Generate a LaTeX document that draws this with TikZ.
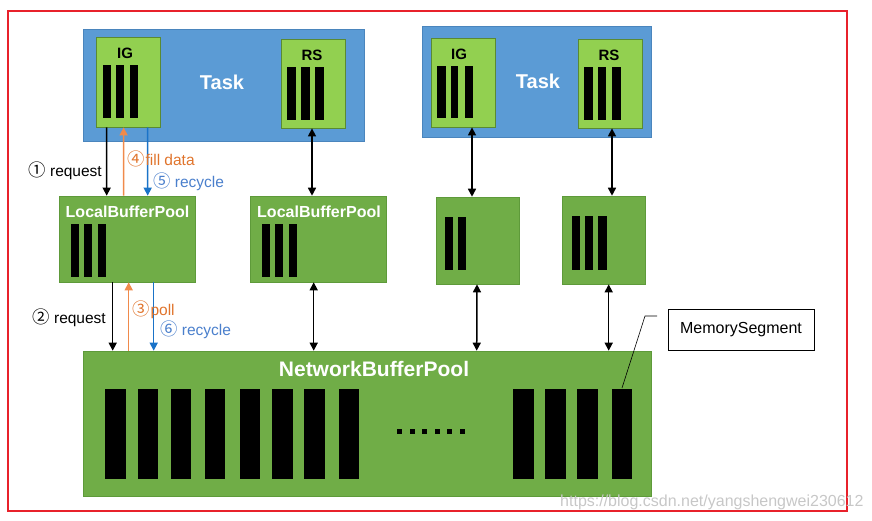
\documentclass[tikz,border=0pt]{standalone}
\usepackage{fontspec}
\setmainfont{Liberation Sans}
\newfontfamily\circfont[Scale=1.12]{Noto Sans CJK SC}
\usetikzlibrary{arrows.meta}
\definecolor{taskblue}{HTML}{5B9BD5}
\definecolor{taskborder}{HTML}{4A85BD}
\definecolor{lgreen}{HTML}{92D050}
\definecolor{lgborder}{HTML}{5A8A32}
\definecolor{dgreen}{HTML}{70AD47}
\definecolor{dgborder}{HTML}{5E9A3A}
\definecolor{arrorange}{HTML}{F08A4B}
\definecolor{arrblue}{HTML}{1A73C8}
\definecolor{txtorange}{HTML}{E0742C}
\definecolor{txtblue}{HTML}{4A7FCC}
\definecolor{framered}{HTML}{E8212B}
\newcommand{\fsz}[1]{\fontsize{#1}{#1}\selectfont}
\tikzset{
  taskbox/.style={draw=taskborder, fill=taskblue, line width=0.8pt, inner sep=0pt},
  gatebox/.style={draw=lgborder, fill=lgreen, line width=0.8pt, inner sep=0pt},
  poolbox/.style={draw=dgborder, fill=dgreen, line width=0.6pt, inner sep=0pt},
  tasktxt/.style={text=white, font=\bfseries\fsz{20}, inner sep=0pt},
  gatetxt/.style={text=black, font=\bfseries\fsz{15}, inner sep=0pt},
  pooltxt/.style={text=white, font=\bfseries\fsz{16}, inner sep=0pt},
  lbl/.style={font=\fsz{15.5}, inner sep=0pt},
  arr/.style={line width=1.5pt, -{Triangle[width=8pt,length=8pt]}},
  darr/.style={line width=1.5pt, {Triangle[width=8pt,length=8pt]}-{Triangle[width=8pt,length=8pt]}},
  seg/.style={fill=black}
}
\begin{document}
\begin{tikzpicture}[x=1pt,y=-1pt]
\useasboundingbox (0,0) rectangle (872,520);
% frame
\draw[framered, line width=1.5pt] (8,11) rectangle (847,511);

% left task
\node[taskbox, minimum width=281pt, minimum height=112pt] (task1) at (223.5,85) {};
\node[tasktxt] (task1t) at (222,82) {Task};
\node[gatebox, minimum width=64pt, minimum height=90pt] (ig1) at (128,82) {};
\node[gatetxt] (ig1t) at (125,53) {IG};
\node[gatebox, minimum width=64pt, minimum height=89pt] (rs1) at (313,83.5) {};
\node[gatetxt] (rs1t) at (312,55) {RS};
\foreach \a/\b in {103/111,116/124,130/138} \fill[seg] (\a,65) rectangle (\b,118);
\foreach \a/\b in {287/296,301/310,315/324} \fill[seg] (\a,67) rectangle (\b,120);

% right task
\node[taskbox, minimum width=229pt, minimum height=111pt] (task2) at (536.5,81.5) {};
\node[tasktxt] (task2t) at (538,81) {Task};
\node[gatebox, minimum width=64pt, minimum height=89pt] (ig2) at (463,82.5) {};
\node[gatetxt] (ig2t) at (459,54) {IG};
\node[gatebox, minimum width=64pt, minimum height=89pt] (rs2) at (610,83.5) {};
\node[gatetxt] (rs2t) at (609,55) {RS};
\foreach \a/\b in {437/446,451/458,465/473} \fill[seg] (\a,66) rectangle (\b,118);
\foreach \a/\b in {584/593,598/606,612/621} \fill[seg] (\a,67) rectangle (\b,120);

% local buffer pools
\node[poolbox, minimum width=136pt, minimum height=86pt] (lbp1) at (127,239) {};
\node[pooltxt] (lbp1t) at (127.5,212) {LocalBufferPool};
\node[poolbox, minimum width=136pt, minimum height=86pt] (lbp2) at (318,239) {};
\node[pooltxt] (lbp2t) at (319,212) {LocalBufferPool};
\node[poolbox, minimum width=83pt, minimum height=87pt] (b3) at (477.5,240.5) {};
\node[poolbox, minimum width=83pt, minimum height=88pt] (b4) at (603.5,240) {};
\foreach \a/\b in {71/79,84/92,98/106} \fill[seg] (\a,224) rectangle (\b,277);
\foreach \a/\b in {262/270,275/283,289/297} \fill[seg] (\a,224) rectangle (\b,277);
\foreach \a/\b in {445/453,458/466} \fill[seg] (\a,217) rectangle (\b,270);
\foreach \a/\b in {572/580,585/593,598/607} \fill[seg] (\a,216) rectangle (\b,270);

% network buffer pool
\node[poolbox, minimum width=568pt, minimum height=145pt] (nbp) at (367,423.5) {};
\node[pooltxt, font=\bfseries\fsz{21}] (nbpt) at (374,369) {NetworkBufferPool};
\foreach \a/\b in {105/126,138/158,171/191,205/225,240/260,272/293,304/325,339/359,513/534,545/566,577/598,612/632}
  \fill[seg] (\a,389) rectangle (\b,479);
\foreach \i in {0,...,5} \fill[seg] (397+\i*12.6,429) rectangle (402+\i*12.6,434);

% memory segment callout
\node[draw=black, line width=0.6pt, minimum width=146pt, minimum height=41pt, inner sep=0pt, font=\fsz{16}] (ms) at (741,329.5) {MemorySegment};
\coordinate (segtop) at (622,388);
\coordinate (msend) at (657,316);
\draw[line width=0.6pt] (segtop) -- (645,316) -- (msend);

% upper arrows, left task
\draw[arr, black] ([xshift=11pt]ig1.south west) -- ([xshift=48pt]lbp1.north west);
\draw[arr, arrorange] ([xshift=65pt]lbp1.north west) -- ([xshift=28pt]ig1.south west);
\draw[arr, arrblue] ([xshift=52pt]ig1.south west) -- ([xshift=89pt]lbp1.north west);
\draw[darr, black] ([xshift=-1pt]rs1.south) -- ([xshift=-6pt]lbp2.north);
\draw[darr, black] ([xshift=9pt]ig2.south) -- ([xshift=-5.5pt]b3.north);
\draw[darr, black] ([xshift=2pt]rs2.south) -- ([xshift=8.5pt]b4.north);

% lower arrows
\draw[arr, black] ([xshift=54pt]lbp1.south west) -- ([xshift=30pt]nbp.north west);
\draw[arr, arrorange] ([xshift=46pt]nbp.north west) -- ([xshift=70pt]lbp1.south west);
\draw[arr, arrblue] ([xshift=95pt]lbp1.south west) -- ([xshift=71pt]nbp.north west);
\draw[darr, black] ([xshift=64pt]lbp2.south west) -- ([xshift=231pt]nbp.north west);
\draw[darr, black] ([xshift=-0.5pt]b3.south) -- ([xshift=394pt]nbp.north west);
\draw[darr, black] ([xshift=47pt]b4.south west) -- ([xshift=526pt]nbp.north west);

% labels
\node[lbl, anchor=east] (l1) at (102,171) {{\circfont ①} request};
\node[lbl, anchor=west, text=txtorange] (l4) at (127,159) {{\circfont ④}\kern1pt fill data};
\node[lbl, anchor=west, text=txtblue] (l5) at (153,182) {{\circfont ⑤} recycle};
\node[lbl, anchor=east] (l2) at (106,318) {{\circfont ②} request};
\node[lbl, anchor=west, text=txtorange] (l3) at (132,310) {{\circfont ③}\kern1pt poll};
\node[lbl, anchor=west, text=txtblue] (l6) at (160,330) {{\circfont ⑥} recycle};

% watermark
\node[font=\fsz{16}, text=black!22, anchor=west, inner sep=0pt] (wm) at (560,502) {https://blog.csdn.net/yangshengwei230612};
\end{tikzpicture}
\end{document}
